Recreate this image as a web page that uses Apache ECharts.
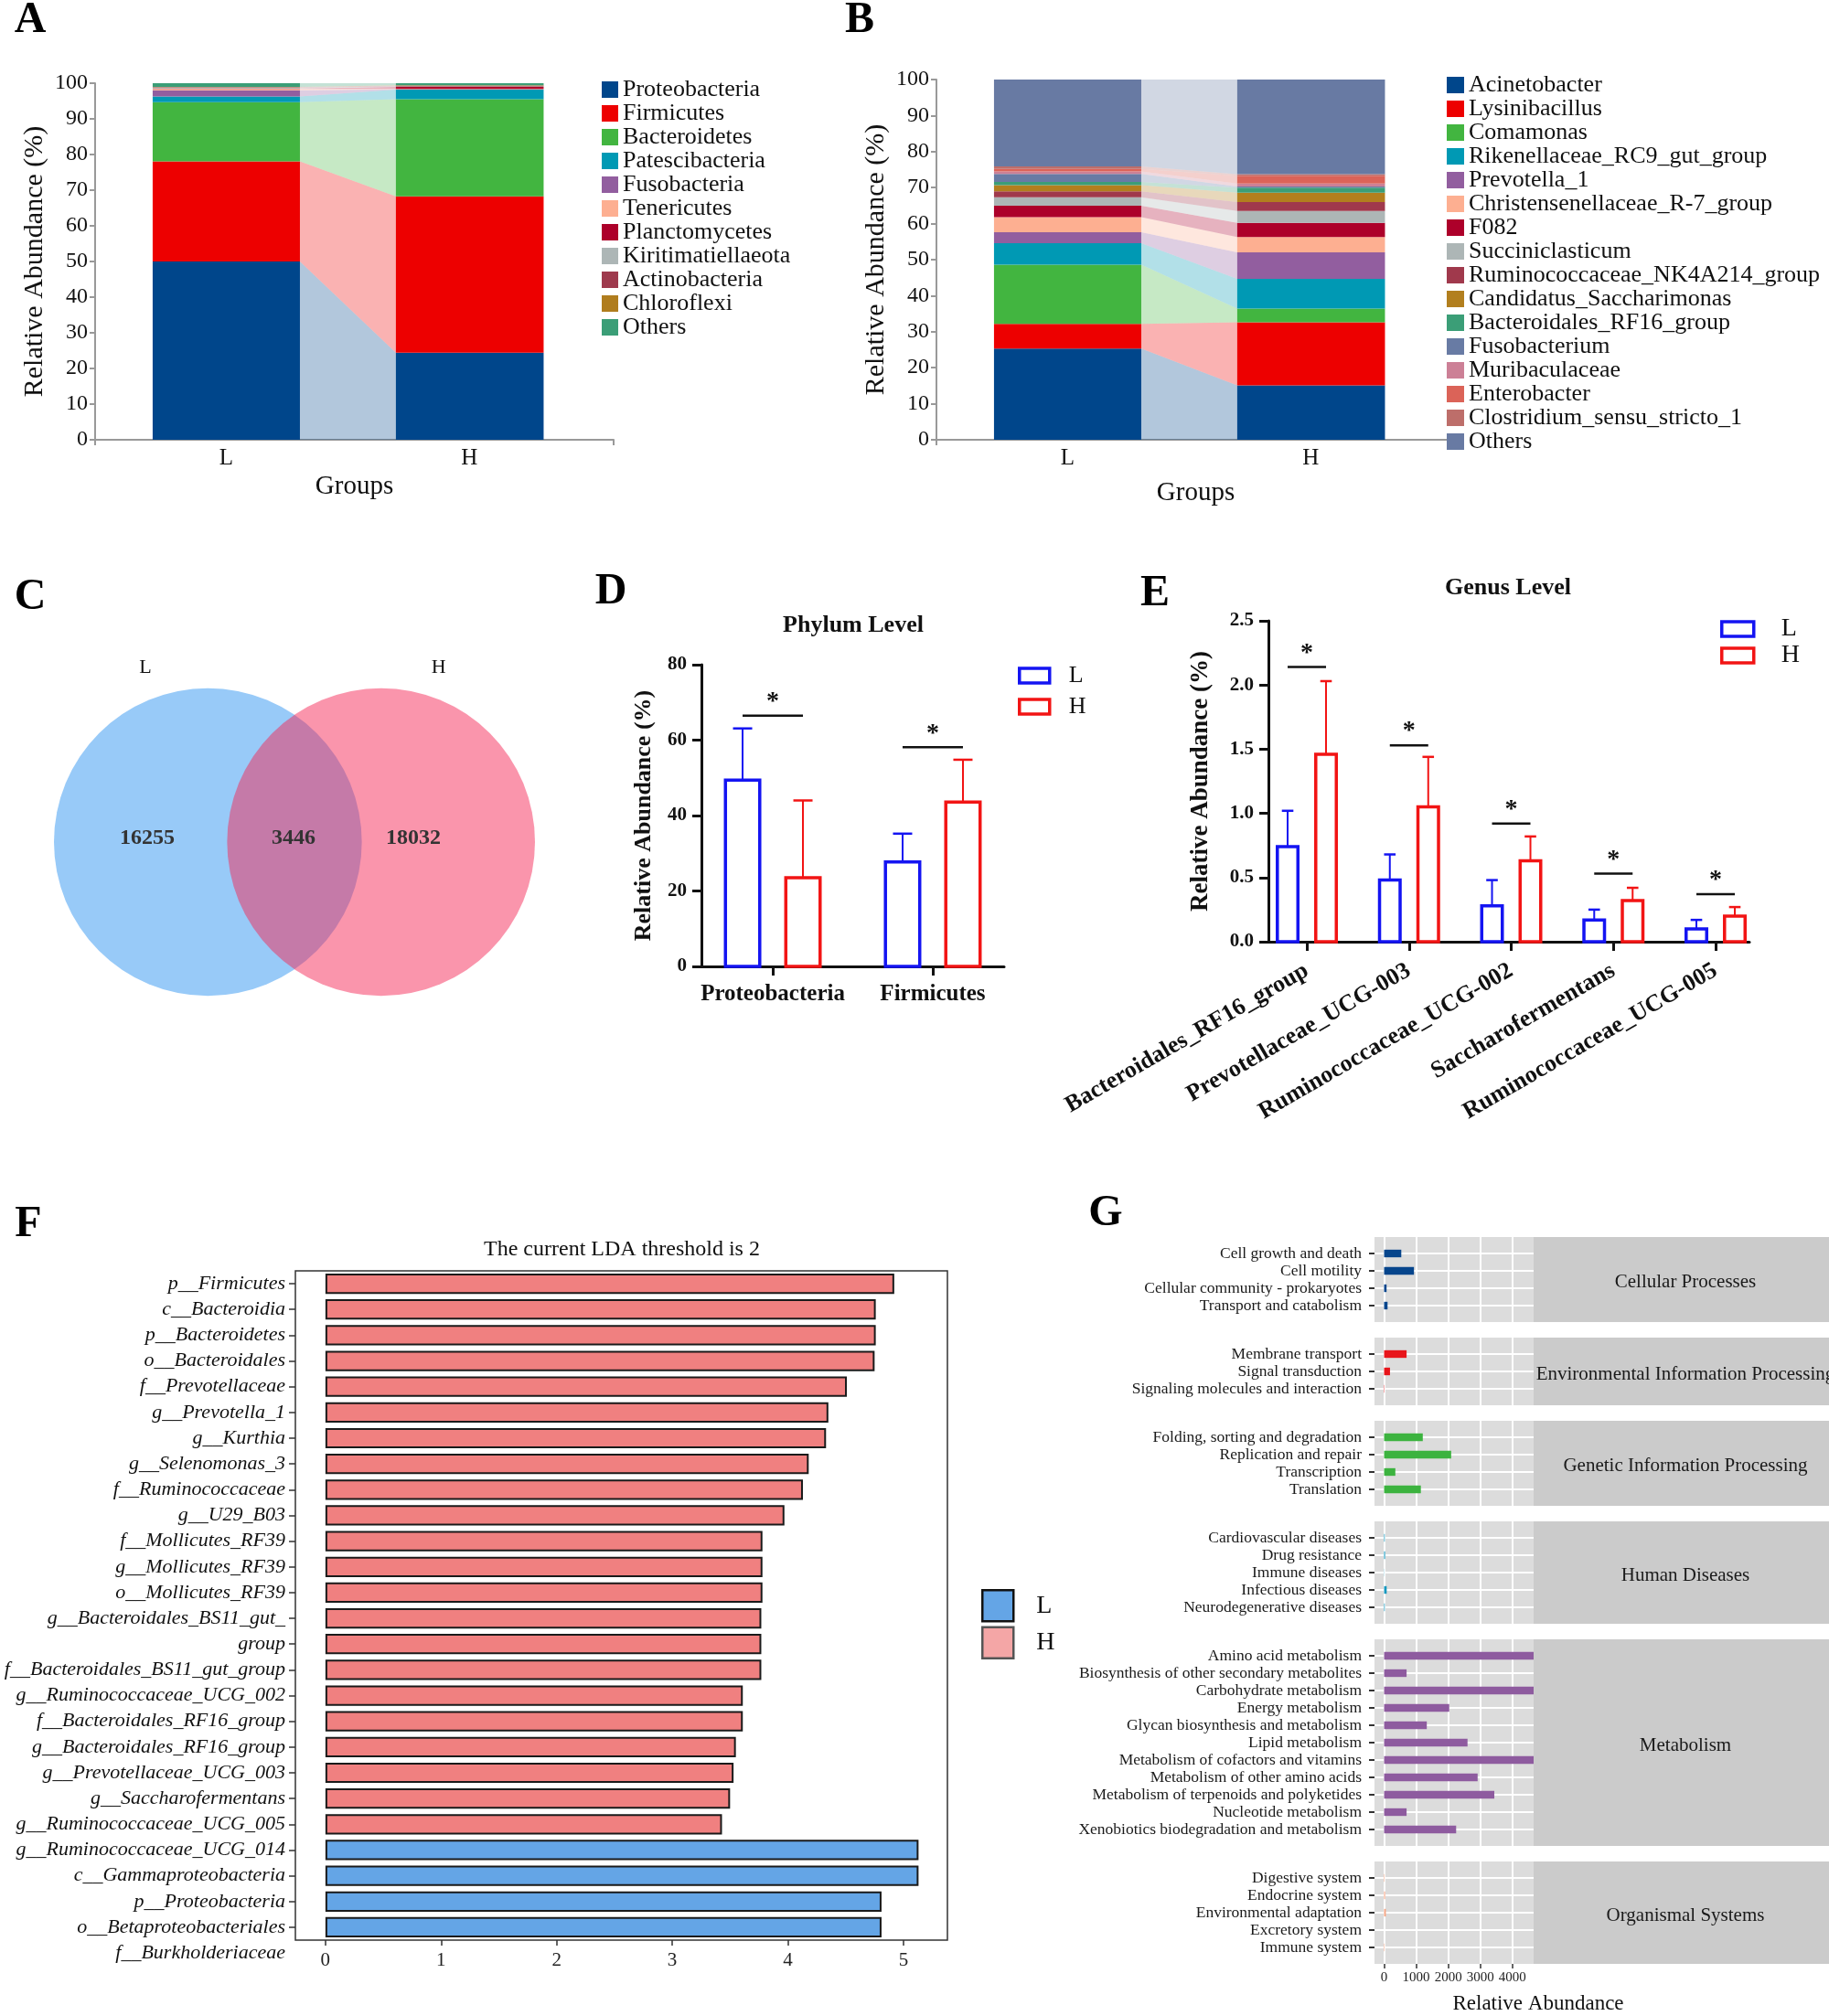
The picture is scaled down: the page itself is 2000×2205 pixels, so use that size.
<!DOCTYPE html>
<html>
<head>
<meta charset="utf-8">
<script src="https://cdn.jsdelivr.net/npm/echarts@6/dist/echarts.min.js"></script>
<style>
  html, body { margin: 0; padding: 0; background: #fff; }
  #main { width: 2000px; height: 2205px; }
</style>
</head>
<body>
<div id="main"></div>
<script>
"use strict";
var SERIF = 'Liberation Serif';

//---------------- A: phylum composition
var groups = ['L', 'H'];
var phylumNames = ['Proteobacteria', 'Firmicutes', 'Bacteroidetes', 'Patescibacteria', 'Fusobacteria', 'Tenericutes',
  'Planctomycetes', 'Kiritimatiellaeota', 'Actinobacteria', 'Chloroflexi', 'Others'];
var phylumColors = ['#00468b', '#ed0000', '#42b540', '#0099b4', '#925e9f', '#fdaf91', '#ad002a', '#adb6b6', '#9e3a4d', '#b07d1e', '#3b9e77'];
var phylumL = [50.0, 28.1, 16.6, 1.6, 1.7, 0.4, 0.1, 0.3, 0.1, 0.1, 1.0];
var phylumH = [24.4, 43.9, 27.2, 2.7, 0.1, 0.1, 0.6, 0.1, 0.2, 0.1, 0.6];

//---------------- B: genus composition
var genusNames = ['Acinetobacter', 'Lysinibacillus', 'Comamonas', 'Rikenellaceae_RC9_gut_group', 'Prevotella_1',
  'Christensenellaceae_R-7_group', 'F082', 'Succiniclasticum', 'Ruminococcaceae_NK4A214_group', 'Candidatus_Saccharimonas',
  'Bacteroidales_RF16_group', 'Fusobacterium', 'Muribaculaceae', 'Enterobacter', 'Clostridium_sensu_stricto_1', 'Others'];
var genusColors = ['#00468b', '#ed0000', '#42b540', '#0099b4', '#925e9f', '#fdaf91', '#ad002a', '#adb6b6', '#a0394c', '#b27f1e',
  '#3b9e77', '#687ba4', '#cc8096', '#db6358', '#bd6e6a', '#687aa3'];
var genusL = [25.3, 6.9, 16.4, 6.0, 3.0, 4.2, 3.2, 2.3, 1.7, 1.7, 0.9, 2.2, 0.7, 0.7, 0.7, 24.1];
var genusH = [15.1, 17.5, 3.8, 8.3, 7.3, 4.3, 3.9, 3.3, 2.5, 2.6, 1.4, 0.3, 0.8, 2.2, 0.4, 26.3];

//---------------- C: venn
var vennSets = ['L', 'H'];
var vennCounts = [16255, 3446, 18032];   // L only, shared, H only

//---------------- D: phylum level
var dCats = ['Proteobacteria', 'Firmicutes'];
var dMeanL = [49.4, 27.7], dErrL = [13.7, 7.5];
var dMeanH = [23.5, 43.6], dErrH = [20.5, 11.2];
var dSig = [66.5, 58.1];

//---------------- E: genus level
var eCats = ['Bacteroidales_RF16_group', 'Prevotellaceae_UCG-003', 'Ruminococcaceae_UCG-002', 'Saccharofermentans', 'Ruminococcaceae_UCG-005'];
var eMeanL = [0.74, 0.48, 0.28, 0.17, 0.10];
var eErrL = [0.28, 0.20, 0.20, 0.08, 0.07];
var eMeanH = [1.46, 1.05, 0.63, 0.32, 0.20];
var eErrH = [0.57, 0.39, 0.19, 0.10, 0.07];
var eSig = [2.14, 1.53, 0.92, 0.53, 0.37];

//---------------- F: LDA
var ldaNames = ['p__Firmicutes', 'c__Bacteroidia', 'p__Bacteroidetes', 'o__Bacteroidales', 'f__Prevotellaceae', 'g__Prevotella_1',
  'g__Kurthia', 'g__Selenomonas_3', 'f__Ruminococcaceae', 'g__U29_B03', 'f__Mollicutes_RF39', 'g__Mollicutes_RF39',
  'o__Mollicutes_RF39', 'g__Bacteroidales_BS11_gut_\ngroup', 'f__Bacteroidales_BS11_gut_group', 'g__Ruminococcaceae_UCG_002',
  'f__Bacteroidales_RF16_group', 'g__Bacteroidales_RF16_group', 'g__Prevotellaceae_UCG_003', 'g__Saccharofermentans',
  'g__Ruminococcaceae_UCG_005', 'g__Ruminococcaceae_UCG_014', 'c__Gammaproteobacteria', 'p__Proteobacteria',
  'o__Betaproteobacteriales', 'f__Burkholderiaceae'];
var ldaScores = [4.92, 4.76, 4.76, 4.75, 4.51, 4.35, 4.33, 4.18, 4.13, 3.97, 3.78, 3.78, 3.78, 3.77, 3.77, 3.77,
  3.61, 3.61, 3.55, 3.53, 3.50, 3.43, 5.13, 5.13, 4.81, 4.81];
var ldaGroup = ['H', 'H', 'H', 'H', 'H', 'H', 'H', 'H', 'H', 'H', 'H', 'H', 'H', 'H', 'H', 'H', 'H', 'H', 'H', 'H', 'H', 'H',
  'L', 'L', 'L', 'L'];

//---------------- G: KEGG level 2
var keggLevels = ['Cellular Processes', 'Environmental Information Processing', 'Genetic Information Processing',
  'Human Diseases', 'Metabolism', 'Organismal Systems'];
var keggColors = ['#06458c', '#e8151b', '#3cb33f', '#1698bf', '#8e5b9f', '#f6a685'];
var cellularPaths = ['Cell growth and death', 'Cell motility', 'Cellular community - prokaryotes', 'Transport and catabolism'];
var cellularValues = [535, 930, 76, 107];
var environmentalPaths = ['Membrane transport', 'Signal transduction', 'Signaling molecules and interaction'];
var environmentalValues = [700, 183, 10];
var geneticPaths = ['Folding, sorting and degradation', 'Replication and repair', 'Transcription', 'Translation'];
var geneticValues = [1205, 2090, 350, 1145];
var humanPaths = ['Cardiovascular diseases', 'Drug resistance', 'Immune diseases', 'Infectious diseases', 'Neurodegenerative diseases'];
var humanValues = [20, 30, 5, 80, 20];
var metabolismPaths = ['Amino acid metabolism', 'Biosynthesis of other secondary metabolites', 'Carbohydrate metabolism',
  'Energy metabolism', 'Glycan biosynthesis and metabolism', 'Lipid metabolism', 'Metabolism of cofactors and vitamins',
  'Metabolism of other amino acids', 'Metabolism of terpenoids and polyketides', 'Nucleotide metabolism',
  'Xenobiotics biodegradation and metabolism'];
var metabolismValues = [4660, 700, 4660, 2030, 1330, 2600, 4660, 2915, 3435, 700, 2245];
var organismalPaths = ['Digestive system', 'Endocrine system', 'Environmental adaptation', 'Excretory system', 'Immune system'];
var organismalValues = [15, 30, 55, 0, 15];
var keggTicks = [0, 1000, 2000, 3000, 4000];

var keggPaths = [cellularPaths, environmentalPaths, geneticPaths, humanPaths, metabolismPaths, organismalPaths];
var keggValues = [cellularValues, environmentalValues, geneticValues, humanValues, metabolismValues, organismalValues];

//======================================================================
var chart = echarts.init(document.getElementById('main'));
var grids = [], xAxes = [], yAxes = [], series = [], legends = [], graphics = [];
function addGrid(g){ grids.push(g); return grids.length - 1; }
function font(size, weight, style){ return (style || '') + ' ' + (weight || 'normal') + ' ' + size + 'px "' + SERIF + '"'; }
function addText(txt, x, y, f, fill){
  graphics.push({ type: 'text', x: x, y: y, z: 10,
    style: { text: txt, font: f, fill: fill || '#111', align: 'center', verticalAlign: 'middle' } });
}

//----------------------------- A & B : stacked bars with flows
var BAR_L = [11.1, 39.5], BAR_H = [58.0, 86.5], GROUP_POS = [25.3, 72.2];
function stackSegments(a, b){
  var sa = 0, sb = 0;
  return a.map(function(v, i){ var seg = [sa, sa + v, sb, sb + b[i]]; sa += v; sb += b[i]; return seg; });
}
function renderFlow(params, api){
  var c = api.visual('color');
  var l0 = api.coord([BAR_L[0], api.value(0)]), l1 = api.coord([BAR_L[1], api.value(1)]);
  var h0 = api.coord([BAR_H[0], api.value(2)]), h1 = api.coord([BAR_H[1], api.value(3)]);
  return { type: 'group', children: [
    { type: 'rect', shape: { x: l0[0], y: l1[1], width: l1[0] - l0[0], height: l0[1] - l1[1] }, style: { fill: c } },
    { type: 'polygon', shape: { points: [[l1[0], l1[1]], [h0[0], h1[1]], [h0[0], h0[1]], [l1[0], l0[1]]] }, style: { fill: c, opacity: 0.3 } },
    { type: 'rect', shape: { x: h0[0], y: h1[1], width: h1[0] - h0[0], height: h0[1] - h1[1] }, style: { fill: c } }
  ]};
}
function compositionPanel(grid, names, colors, valsL, valsH, nameGap, legendPos){
  var gi = addGrid(grid);
  xAxes.push({ type: 'value', gridIndex: gi, min: 0, max: 100,
    axisLine: { show: true, onZero: false, lineStyle: { color: '#999', width: 2 } },
    axisTick: { show: true, customValues: [0, 100], length: 6, lineStyle: { color: '#999', width: 2 } },
    axisLabel: { customValues: GROUP_POS, formatter: function(v){ return v < 50 ? groups[0] : groups[1]; }, fontSize: 25, color: '#111', margin: 8 },
    splitLine: { show: false },
    name: 'Groups', nameLocation: 'middle', nameGap: nameGap, nameTextStyle: { fontSize: 29, color: '#111' } });
  yAxes.push({ type: 'value', gridIndex: gi, min: 0, max: 100, interval: 10,
    axisLine: { show: true, onZero: false, lineStyle: { color: '#999', width: 2 } },
    axisTick: { show: true, length: 6, lineStyle: { color: '#999', width: 2 } },
    axisLabel: { fontSize: 24, color: '#111', margin: 8 }, splitLine: { show: false },
    name: 'Relative Abundance (%)', nameLocation: 'middle', nameGap: 51, nameTextStyle: { fontSize: 30, color: '#111' } });
  stackSegments(valsL, valsH).forEach(function(seg, i){
    series.push({ type: 'custom', name: names[i], xAxisIndex: gi, yAxisIndex: gi, itemStyle: { color: colors[i] },
      renderItem: renderFlow, data: [seg] });
  });
  legends.push({ left: legendPos[0], top: legendPos[1], orient: 'vertical', icon: 'rect', itemWidth: legendPos[2], itemHeight: 18, itemGap: 0,
    textStyle: { fontSize: 26, lineHeight: 25, color: '#111', fontFamily: SERIF },
    data: names.map(function(n, i){ return { name: n, itemStyle: { color: colors[i], borderWidth: 0 } }; }) });
}
compositionPanel({ left: 104, top: 91, width: 567, height: 390 }, phylumNames, phylumColors, phylumL, phylumH, 37, [653, 80, 18]);
compositionPanel({ left: 1024, top: 87, width: 567, height: 394 }, genusNames, genusColors, genusL, genusH, 44, [1577, 75, 19]);

//----------------------------- C : venn
var VENN_X = [0.32, 0.68], VENN_R = 0.32, VENN_LABEL_X = [0.19, 0.80], VENN_COUNT_X = [0.194, 0.498, 0.747];
var VENN_FILL = ['#98caf8', 'rgba(245,38,84,0.485)'];
function renderVenn(params, api){
  var r = api.size([VENN_R, 0])[0], kids = [];
  vennSets.forEach(function(s, i){
    var c = api.coord([VENN_X[i], 0.5]);
    kids.push({ type: 'circle', shape: { cx: c[0], cy: c[1], r: r }, style: { fill: VENN_FILL[i] } });
    var t = api.coord([VENN_LABEL_X[i], 1.065]);
    kids.push({ type: 'text', style: { text: s, x: t[0], y: t[1], align: 'center', verticalAlign: 'middle', font: font(22), fill: '#111' } });
  });
  vennCounts.forEach(function(n, i){
    var p = api.coord([VENN_COUNT_X[i], 0.512]);
    kids.push({ type: 'text', style: { text: String(n), x: p[0], y: p[1], align: 'center', verticalAlign: 'middle', font: font(24, 'bold'), fill: '#333' } });
  });
  return { type: 'group', children: kids };
}
var gC = addGrid({ left: 59, top: 752, width: 526, height: 338 });
xAxes.push({ type: 'value', gridIndex: gC, min: 0, max: 1, show: false });
yAxes.push({ type: 'value', gridIndex: gC, min: 0, max: 1, show: false });
series.push({ type: 'custom', name: 'venn', xAxisIndex: gC, yAxisIndex: gC, silent: true, renderItem: renderVenn, data: [[0.5, 0.5]] });

//----------------------------- D & E : bars with error bars
var BLUE = '#1414f2', RED = '#f21414';
function errBars(offset, barW){
  return function(params, api){
    var color = api.visual('color');
    var x = api.value(0), m = api.value(1), e = api.value(2);
    var p0 = api.coord([x, 0]), p1 = api.coord([x, m]), p2 = api.coord([x, m + e]);
    var cx = p0[0] + offset, cap = barW * 0.28;
    return { type: 'group', children: [
      { type: 'line', shape: { x1: cx, y1: p1[1], x2: cx, y2: p2[1] }, style: { stroke: color, lineWidth: 2 } },
      { type: 'line', shape: { x1: cx - cap, y1: p2[1], x2: cx + cap, y2: p2[1] }, style: { stroke: color, lineWidth: 2.5 } },
      { type: 'rect', shape: { x: cx - barW / 2, y: p1[1], width: barW, height: p0[1] - p1[1] }, style: { fill: '#fff', stroke: color, lineWidth: 3.5 } }
    ]};
  };
}
function sigMarks(halfSpan, lift){
  return function(params, api){
    var p = api.coord([api.value(0), api.value(1)]);
    return { type: 'group', children: [
      { type: 'line', shape: { x1: p[0] - halfSpan, y1: p[1], x2: p[0] + halfSpan, y2: p[1] }, style: { stroke: '#111', lineWidth: 2.5 } },
      { type: 'text', style: { text: '*', x: p[0], y: p[1] - lift, align: 'center', verticalAlign: 'middle', font: font(28, 'bold'), fill: '#111' } }
    ]};
  };
}
function levelPanel(grid, cats, xr, ymax, yint, yfmt, lab, yname, means, errs, sig, geom, legend){
  var gi = addGrid(grid), ticks = cats.map(function(c, i){ return i; });
  xAxes.push({ type: 'value', gridIndex: gi, min: xr[0], max: xr[1],
    axisLine: { show: true, onZero: false, lineStyle: { color: '#111', width: 3 } },
    axisTick: { show: true, customValues: ticks, length: 10, lineStyle: { color: '#111', width: 3 } },
    axisLabel: { customValues: ticks, formatter: function(v){ return cats[Math.round(v)]; },
      fontSize: lab.size, fontWeight: 'bold', color: '#111', margin: lab.margin, rotate: lab.rotate || 0 },
    splitLine: { show: false } });
  yAxes.push({ type: 'value', gridIndex: gi, min: 0, max: ymax, interval: yint,
    axisLine: { show: true, onZero: false, lineStyle: { color: '#111', width: 3 } },
    axisTick: { show: true, length: 10, lineStyle: { color: '#111', width: 3 } },
    axisLabel: { fontSize: 21, fontWeight: 'bold', color: '#111', margin: 16, formatter: yfmt }, splitLine: { show: false },
    name: 'Relative Abundance (%)', nameLocation: 'middle', nameGap: yname.gap, nameTextStyle: { fontSize: yname.size, fontWeight: 'bold', color: '#111' } });
  series.push({ type: 'custom', name: 'L', xAxisIndex: gi, yAxisIndex: gi, itemStyle: { color: BLUE }, renderItem: errBars(-geom.off, geom.w),
    data: cats.map(function(c, i){ return [i, means[0][i], errs[0][i]]; }) });
  series.push({ type: 'custom', name: 'H', xAxisIndex: gi, yAxisIndex: gi, itemStyle: { color: RED }, renderItem: errBars(geom.off, geom.w),
    data: cats.map(function(c, i){ return [i, means[1][i], errs[1][i]]; }) });
  series.push({ type: 'custom', name: 'sig', xAxisIndex: gi, yAxisIndex: gi, silent: true, renderItem: sigMarks(geom.off, geom.lift),
    data: sig.map(function(v, i){ return [i, v]; }) });
  legends.push({ left: legend.left, top: legend.top, orient: 'vertical', icon: 'rect', itemWidth: legend.w, itemHeight: 16, itemGap: legend.gap,
    textStyle: { fontSize: legend.size, color: '#111', fontFamily: SERIF, padding: [0, 0, 0, legend.pad] },
    data: [{ name: 'L', itemStyle: { color: '#fff', borderColor: BLUE, borderWidth: 3.5 } },
           { name: 'H', itemStyle: { color: '#fff', borderColor: RED, borderWidth: 3.5 } }] });
}
levelPanel({ left: 767, top: 727, width: 331, height: 330 }, dCats, [-0.446, 1.446], 80, 20, null,
  { size: 25, margin: 18 }, { gap: 50, size: 26 }, [dMeanL, dMeanH], [dErrL, dErrH], dSig,
  { off: 33, w: 37.5, lift: 15 }, { left: 1108, top: 721, w: 33, gap: 8, size: 26, pad: 16 });
levelPanel({ left: 1387, top: 679, width: 526, height: 351 }, eCats, [-0.376, 4.331], 2.5, 0.5, function(v){ return v.toFixed(1); },
  { size: 26, margin: 30, rotate: 30 }, { gap: 60, size: 27 }, [eMeanL, eMeanH], [eErrL, eErrH], eSig,
  { off: 21, w: 22.5, lift: 15 }, { left: 1876, top: 669, w: 35, gap: 1, size: 28, pad: 25 });

//----------------------------- F : LDA
var LDA_BLUE = '#64a5e6', LDA_PINK = '#f08080';
var ldaCats = ldaNames.map(function(n){ return n.replace('\n', ''); });
var ldaLines = ldaNames.join('\n').split('\n');
var gF = addGrid({ left: 323, top: 1390, width: 713, height: 732, show: true, borderColor: '#333', borderWidth: 1.5, backgroundColor: 'rgba(0,0,0,0)' });
xAxes.push({ type: 'value', gridIndex: gF, min: -0.26, max: 5.38,
  axisLine: { show: false, onZero: false },
  axisTick: { show: true, customValues: [0, 1, 2, 3, 4, 5], length: 6, lineStyle: { color: '#333', width: 1.5 } },
  axisLabel: { customValues: [0, 1, 2, 3, 4, 5], fontSize: 21, color: '#222', margin: 12 }, splitLine: { show: false } });
yAxes.push({ type: 'category', gridIndex: gF, data: ldaCats, inverse: true, axisLine: { show: false, onZero: false },
  axisTick: { show: true, alignWithLabel: true, interval: 0, length: 7, lineStyle: { color: '#333', width: 1.5 } },
  axisLabel: { show: false } });
series.push({ type: 'bar', name: 'LDA', xAxisIndex: gF, yAxisIndex: gF, barCategoryGap: '21%',
  itemStyle: { borderColor: '#1a1a1a', borderWidth: 2 },
  data: ldaScores.map(function(v, i){ return { value: v, itemStyle: { color: ldaGroup[i] === 'L' ? LDA_BLUE : LDA_PINK } }; }) });
var gFL = addGrid({ left: 323, top: 1390, width: 713, height: 732 * ldaLines.length / ldaCats.length });
xAxes.push({ type: 'value', gridIndex: gFL, min: 0, max: 1, show: false });
yAxes.push({ type: 'category', gridIndex: gFL, data: ldaLines, inverse: true, axisLine: { show: false, onZero: false }, axisTick: { show: false },
  axisLabel: { interval: 0, fontSize: 22, fontStyle: 'italic', color: '#111', margin: 11 } });
legends.push({ left: 1068, top: 1733, orient: 'vertical', icon: 'rect', itemWidth: 34, itemHeight: 34, itemGap: 4,
  textStyle: { fontSize: 28, color: '#111', fontFamily: SERIF, padding: [0, 0, 0, 20] },
  data: [{ name: 'L', itemStyle: { color: LDA_BLUE, borderColor: '#111', borderWidth: 2.5 } },
         { name: 'H', itemStyle: { color: '#f4a6a6', borderColor: '#555', borderWidth: 2.5 } }] });

//----------------------------- G : KEGG
var G_SLOT = 19, G_PAD = 18, G_GAP = 17;
function renderKegg(params, api){
  var p0 = api.coord([0, api.value(1) - 0.22]), p1 = api.coord([api.value(0), api.value(1) + 0.22]);
  return { type: 'rect', shape: { x: p0[0], y: Math.min(p0[1], p1[1]), width: p1[0] - p0[0], height: Math.abs(p1[1] - p0[1]) },
    style: { fill: api.visual('color') } };
}
var gTop = 1353;
keggLevels.forEach(function(level, k){
  var paths = keggPaths[k], vals = keggValues[k], n = paths.length;
  var h = (n - 1) * G_SLOT + 2 * G_PAD, last = k === keggLevels.length - 1;
  var idx = paths.map(function(p, i){ return i; });
  var gi = addGrid({ left: 1503, top: gTop, width: 174, height: h, show: true, backgroundColor: '#dcdcdc', borderWidth: 0 });
  xAxes.push({ type: 'value', gridIndex: gi, min: -300, max: 4660, axisLine: { show: false, onZero: false },
    axisTick: { show: last, customValues: keggTicks, length: 5, lineStyle: { color: '#333', width: 1.5 } },
    axisLabel: { show: last, customValues: keggTicks, formatter: function(v){ return String(v); }, fontSize: 15, color: '#222', margin: 8 },
    splitLine: { show: true, lineStyle: { color: '#fff', width: 2 } } });
  yAxes.push({ type: 'value', gridIndex: gi, min: -G_PAD / G_SLOT, max: n - 1 + G_PAD / G_SLOT, inverse: true,
    axisLine: { show: false, onZero: false },
    axisTick: { show: true, customValues: idx, length: 6, lineStyle: { color: '#333', width: 2 } },
    axisLabel: { customValues: idx, formatter: function(v){ return paths[Math.round(v)]; }, fontSize: 17.5, color: '#1a1a1a', margin: 14 },
    splitLine: { show: true, lineStyle: { color: '#fff', width: 2 } } });
  series.push({ type: 'custom', name: level, xAxisIndex: gi, yAxisIndex: gi, itemStyle: { color: keggColors[k] }, renderItem: renderKegg,
    data: vals.map(function(v, i){ return [v, i]; }) });
  graphics.push({ type: 'rect', x: 1677, y: gTop, z: 1, shape: { x: 0, y: 0, width: 323, height: h }, style: { fill: '#cbcbcb' } });
  addText(level, 1843, gTop + h / 2 + 3, font(21), '#1a1a1a');
  gTop += h + G_GAP;
});
addText('Relative Abundance', 1682, 2192, font(23), '#111');

//----------------------------- letters and titles
[['A', 33, 23], ['B', 940, 23], ['C', 33, 654], ['D', 668, 648], ['E', 1263, 650], ['F', 31, 1340], ['G', 1209, 1328]].forEach(function(d){
  addText(d[0], d[1], d[2], font(48, 'bold'), '#000');
});
addText('Phylum Level', 933, 684, font(26, 'bold'));
addText('Genus Level', 1649, 643, font(26, 'bold'));
addText('The current LDA threshold is 2', 680, 1367, font(24));

chart.setOption({
  animation: false,
  backgroundColor: '#fff',
  textStyle: { fontFamily: SERIF },
  grid: grids, xAxis: xAxes, yAxis: yAxes, legend: legends, series: series, graphic: graphics
});
</script>
</body>
</html>
